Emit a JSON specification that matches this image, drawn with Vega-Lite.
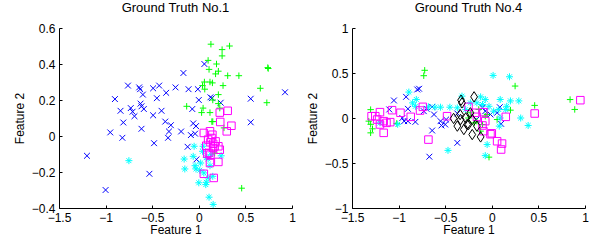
{
  "$schema": "https://vega.github.io/schema/vega-lite/v6.json",
  "autosize": "none",
  "padding": {"left": 59, "top": 28, "right": 538, "bottom": 214},
  "background": "white",
  "bounds": "flush",
  "spacing": 60,
  "datasets": {
    "pts": [
      {"panel":1,"cls":"a","x":-1.2,"y":-0.11},{"panel":1,"cls":"a","x":-1.0,"y":-0.3},{"panel":1,"cls":"a","x":-0.95,"y":0.02},{"panel":1,"cls":"a","x":-0.9,"y":0.205},{"panel":1,"cls":"a","x":-0.84,"y":0.14},{"panel":1,"cls":"a","x":-0.81,"y":0.075},{"panel":1,"cls":"a","x":-0.82,"y":-0.01},{"panel":1,"cls":"a","x":-0.76,"y":0.28},{"panel":1,"cls":"a","x":-0.73,"y":0.155},{"panel":1,"cls":"a","x":-0.71,"y":0.135},{"panel":1,"cls":"a","x":-0.69,"y":0.11},{"panel":1,"cls":"a","x":-0.64,"y":0.27},{"panel":1,"cls":"a","x":-0.63,"y":0.26},{"panel":1,"cls":"a","x":-0.625,"y":0.18},{"panel":1,"cls":"a","x":-0.615,"y":0.165},{"panel":1,"cls":"a","x":-0.6,"y":0.23},{"panel":1,"cls":"a","x":-0.615,"y":0.04},{"panel":1,"cls":"a","x":-0.59,"y":0.15},{"panel":1,"cls":"a","x":-0.53,"y":-0.21},{"panel":1,"cls":"a","x":-0.49,"y":0.265},{"panel":1,"cls":"a","x":-0.49,"y":0.115},{"panel":1,"cls":"a","x":-0.48,"y":-0.04},{"panel":1,"cls":"a","x":-0.45,"y":0.21},{"panel":1,"cls":"a","x":-0.425,"y":0.28},{"panel":1,"cls":"a","x":-0.4,"y":0.14},{"panel":1,"cls":"a","x":-0.35,"y":0.24},{"panel":1,"cls":"a","x":-0.36,"y":0.08},{"panel":1,"cls":"a","x":-0.3,"y":0.06},{"panel":1,"cls":"a","x":-0.32,"y":0.025},{"panel":1,"cls":"a","x":-0.33,"y":-0.01},{"panel":1,"cls":"a","x":-0.25,"y":0.27},{"panel":1,"cls":"a","x":-0.19,"y":0.025},{"panel":1,"cls":"a","x":-0.165,"y":0.35},{"panel":1,"cls":"a","x":-0.12,"y":-0.06},{"panel":1,"cls":"a","x":-0.11,"y":0.26},{"panel":1,"cls":"a","x":-0.07,"y":0.15},{"panel":1,"cls":"a","x":-0.085,"y":0.005},{"panel":1,"cls":"a","x":-0.06,"y":0.07},{"panel":1,"cls":"a","x":-0.03,"y":0.055},{"panel":1,"cls":"a","x":-0.025,"y":-0.13},{"panel":1,"cls":"a","x":-0.01,"y":0.26},{"panel":1,"cls":"a","x":0.0,"y":0.2},{"panel":1,"cls":"a","x":0.06,"y":0.4},{"panel":1,"cls":"a","x":0.125,"y":0.215},{"panel":1,"cls":"a","x":0.14,"y":0.21},{"panel":1,"cls":"a","x":0.235,"y":0.185},{"panel":1,"cls":"a","x":0.557,"y":0.207},{"panel":1,"cls":"a","x":0.557,"y":0.076},{"panel":1,"cls":"a","x":0.925,"y":0.243},{"panel":1,"cls":"a","x":-0.04,"y":0.013},
      {"panel":1,"cls":"b","x":0.13,"y":0.51},{"panel":1,"cls":"b","x":0.33,"y":0.5},{"panel":1,"cls":"b","x":0.25,"y":0.48},{"panel":1,"cls":"b","x":0.25,"y":0.445},{"panel":1,"cls":"b","x":0.1,"y":0.42},{"panel":1,"cls":"b","x":0.19,"y":0.4},{"panel":1,"cls":"b","x":0.11,"y":0.37},{"panel":1,"cls":"b","x":0.21,"y":0.36},{"panel":1,"cls":"b","x":0.18,"y":0.345},{"panel":1,"cls":"b","x":0.31,"y":0.335},{"panel":1,"cls":"b","x":0.43,"y":0.335},{"panel":1,"cls":"b","x":0.74,"y":0.38},{"panel":1,"cls":"b","x":0.745,"y":0.375},{"panel":1,"cls":"b","x":0.66,"y":0.265},{"panel":1,"cls":"b","x":0.73,"y":0.185},{"panel":1,"cls":"b","x":0.06,"y":0.3},{"panel":1,"cls":"b","x":0.12,"y":0.3},{"panel":1,"cls":"b","x":0.146,"y":0.295},{"panel":1,"cls":"b","x":0.26,"y":0.28},{"panel":1,"cls":"b","x":0.04,"y":0.28},{"panel":1,"cls":"b","x":0.21,"y":0.23},{"panel":1,"cls":"b","x":0.15,"y":0.2},{"panel":1,"cls":"b","x":-0.13,"y":0.165},{"panel":1,"cls":"b","x":0.046,"y":0.155},{"panel":1,"cls":"b","x":0.03,"y":0.13},{"panel":1,"cls":"b","x":0.12,"y":0.13},{"panel":1,"cls":"b","x":0.21,"y":0.18},{"panel":1,"cls":"b","x":0.15,"y":0.08},{"panel":1,"cls":"b","x":0.14,"y":0.08},{"panel":1,"cls":"b","x":0.27,"y":0.045},{"panel":1,"cls":"b","x":0.225,"y":0.155},{"panel":1,"cls":"b","x":0.17,"y":-0.095},{"panel":1,"cls":"b","x":0.46,"y":-0.29},{"panel":1,"cls":"b","x":0.064,"y":0.26},
      {"panel":1,"cls":"c","x":-0.75,"y":-0.137},{"panel":1,"cls":"c","x":-0.157,"y":-0.128},{"panel":1,"cls":"c","x":-0.15,"y":-0.183},{"panel":1,"cls":"c","x":-0.05,"y":-0.057},{"panel":1,"cls":"c","x":-0.06,"y":-0.113},{"panel":1,"cls":"c","x":-0.04,"y":-0.165},{"panel":1,"cls":"c","x":-0.03,"y":-0.183},{"panel":1,"cls":"c","x":0.01,"y":-0.19},{"panel":1,"cls":"c","x":0.0,"y":-0.26},{"panel":1,"cls":"c","x":0.08,"y":-0.257},{"panel":1,"cls":"c","x":0.075,"y":-0.27},{"panel":1,"cls":"c","x":0.1,"y":-0.233},{"panel":1,"cls":"c","x":0.12,"y":-0.165},{"panel":1,"cls":"c","x":0.1,"y":-0.128},{"panel":1,"cls":"c","x":0.13,"y":-0.104},{"panel":1,"cls":"c","x":0.15,"y":-0.224},{"panel":1,"cls":"c","x":0.11,"y":-0.34},{"panel":1,"cls":"c","x":0.154,"y":-0.38},{"panel":1,"cls":"c","x":0.24,"y":-0.11},{"panel":1,"cls":"c","x":0.08,"y":-0.12},{"panel":1,"cls":"c","x":0.046,"y":-0.057},{"panel":1,"cls":"c","x":0.054,"y":-0.205},{"panel":1,"cls":"c","x":0.04,"y":-0.085},{"panel":1,"cls":"c","x":0.02,"y":-0.15},
      {"panel":1,"cls":"d","x":0.31,"y":0.14},{"panel":1,"cls":"d","x":0.225,"y":0.13},{"panel":1,"cls":"d","x":0.23,"y":0.078},{"panel":1,"cls":"d","x":0.35,"y":0.057},{"panel":1,"cls":"d","x":0.3,"y":0.026},{"panel":1,"cls":"d","x":0.054,"y":0.017},{"panel":1,"cls":"d","x":0.12,"y":0.026},{"panel":1,"cls":"d","x":0.146,"y":0.007},{"panel":1,"cls":"d","x":0.1,"y":-0.02},{"panel":1,"cls":"d","x":0.125,"y":-0.035},{"panel":1,"cls":"d","x":0.154,"y":-0.043},{"panel":1,"cls":"d","x":0.18,"y":-0.03},{"panel":1,"cls":"d","x":0.21,"y":-0.057},{"panel":1,"cls":"d","x":0.225,"y":-0.076},{"panel":1,"cls":"d","x":0.154,"y":-0.067},{"panel":1,"cls":"d","x":0.11,"y":-0.094},{"panel":1,"cls":"d","x":0.125,"y":-0.104},{"panel":1,"cls":"d","x":0.09,"y":-0.098},{"panel":1,"cls":"d","x":0.12,"y":-0.15},{"panel":1,"cls":"d","x":0.21,"y":-0.144},{"panel":1,"cls":"d","x":0.054,"y":-0.21},{"panel":1,"cls":"d","x":0.16,"y":-0.233},{"panel":1,"cls":"d","x":0.17,"y":-0.057},{"panel":1,"cls":"d","x":0.08,"y":-0.054},{"panel":1,"cls":"d","x":0.136,"y":-0.011},
      {"panel":2,"cls":"a","x":-1.05,"y":0.195},{"panel":2,"cls":"a","x":-1.1,"y":0.095},{"panel":2,"cls":"a","x":-0.92,"y":0.235},{"panel":2,"cls":"a","x":-0.9,"y":0.102},{"panel":2,"cls":"a","x":-0.96,"y":0.0},{"panel":2,"cls":"a","x":-0.94,"y":-0.035},{"panel":2,"cls":"a","x":-0.9,"y":-0.035},{"panel":2,"cls":"a","x":-0.82,"y":-0.043},{"panel":2,"cls":"a","x":-0.8,"y":0.317},{"panel":2,"cls":"a","x":-0.78,"y":0.325},{"panel":2,"cls":"a","x":-0.73,"y":0.076},{"panel":2,"cls":"a","x":-0.7,"y":0.102},{"panel":2,"cls":"a","x":-0.64,"y":0.124},{"panel":2,"cls":"a","x":-0.62,"y":0.039},{"panel":2,"cls":"a","x":-0.64,"y":-0.139},{"panel":2,"cls":"a","x":-0.67,"y":-0.43},{"panel":2,"cls":"a","x":-0.55,"y":-0.035},{"panel":2,"cls":"a","x":-0.54,"y":-0.083},{"panel":2,"cls":"a","x":-0.5,"y":-0.072},{"panel":2,"cls":"a","x":-0.49,"y":-0.017},{"panel":2,"cls":"a","x":-0.37,"y":-0.276},{"panel":2,"cls":"a","x":-0.37,"y":0.05},{"panel":2,"cls":"a","x":-0.1,"y":0.113},{"panel":2,"cls":"a","x":-0.014,"y":0.039},{"panel":2,"cls":"a","x":0.057,"y":0.058},{"panel":2,"cls":"a","x":0.086,"y":0.12},{"panel":2,"cls":"a","x":0.1,"y":-0.065},{"panel":2,"cls":"a","x":-0.07,"y":0.076},{"panel":2,"cls":"a","x":-0.165,"y":-0.017},
      {"panel":2,"cls":"b","x":-1.3,"y":0.093},{"panel":2,"cls":"b","x":-1.32,"y":-0.035},{"panel":2,"cls":"b","x":-1.3,"y":-0.07},{"panel":2,"cls":"b","x":-1.3,"y":-0.165},{"panel":2,"cls":"b","x":-1.28,"y":-0.12},{"panel":2,"cls":"b","x":-1.02,"y":-0.06},{"panel":2,"cls":"b","x":-0.72,"y":0.53},{"panel":2,"cls":"b","x":-0.73,"y":0.47},{"panel":2,"cls":"b","x":0.25,"y":0.355},{"panel":2,"cls":"b","x":0.46,"y":0.14},{"panel":2,"cls":"b","x":0.84,"y":0.205},{"panel":2,"cls":"b","x":0.89,"y":0.095},{"panel":2,"cls":"b","x":-0.03,"y":-0.435},{"panel":2,"cls":"b","x":0.2,"y":0.087},{"panel":2,"cls":"b","x":-0.23,"y":0.058},{"panel":2,"cls":"b","x":-0.16,"y":-0.035},{"panel":2,"cls":"b","x":-0.1,"y":-0.072},{"panel":2,"cls":"b","x":-0.07,"y":0.02},{"panel":2,"cls":"b","x":-0.19,"y":-0.054},{"panel":2,"cls":"b","x":-0.12,"y":-0.146},{"panel":2,"cls":"b","x":-0.25,"y":0.0},{"panel":2,"cls":"b","x":0.057,"y":-0.017},{"panel":2,"cls":"b","x":-0.05,"y":0.039},{"panel":2,"cls":"b","x":-0.14,"y":0.095},
      {"panel":2,"cls":"c","x":0.014,"y":0.473},{"panel":2,"cls":"c","x":0.19,"y":0.458},{"panel":2,"cls":"c","x":0.09,"y":0.206},{"panel":2,"cls":"c","x":-0.89,"y":0.288},{"panel":2,"cls":"c","x":-0.81,"y":0.206},{"panel":2,"cls":"c","x":-0.82,"y":0.13},{"panel":2,"cls":"c","x":-1.01,"y":-0.07},{"panel":2,"cls":"c","x":-0.61,"y":0.12},{"panel":2,"cls":"c","x":-0.55,"y":0.12},{"panel":2,"cls":"c","x":-0.45,"y":0.12},{"panel":2,"cls":"c","x":-0.47,"y":-0.36},{"panel":2,"cls":"c","x":-0.32,"y":0.243},{"panel":2,"cls":"c","x":-0.12,"y":0.235},{"panel":2,"cls":"c","x":-0.07,"y":0.206},{"panel":2,"cls":"c","x":0.2,"y":0.19},{"panel":2,"cls":"c","x":0.29,"y":0.19},{"panel":2,"cls":"c","x":0.31,"y":0.0},{"panel":2,"cls":"c","x":0.39,"y":-0.083},{"panel":2,"cls":"c","x":-0.05,"y":-0.295},{"panel":2,"cls":"c","x":-0.07,"y":-0.418},{"panel":2,"cls":"c","x":-0.23,"y":0.168},{"panel":2,"cls":"c","x":-0.28,"y":0.094},{"panel":2,"cls":"c","x":-0.37,"y":0.113},{"panel":2,"cls":"c","x":0.075,"y":0.094},{"panel":2,"cls":"c","x":0.02,"y":0.076},{"panel":2,"cls":"c","x":0.09,"y":0.0},{"panel":2,"cls":"c","x":0.08,"y":-0.09},{"panel":2,"cls":"c","x":-0.1,"y":0.15},{"panel":2,"cls":"c","x":-0.03,"y":0.13},{"panel":2,"cls":"c","x":0.15,"y":0.094},{"panel":2,"cls":"c","x":0.16,"y":0.13},{"panel":2,"cls":"c","x":-0.16,"y":0.168},{"panel":2,"cls":"c","x":-1.2,"y":-0.054},{"panel":2,"cls":"c","x":-0.68,"y":0.124},{"panel":2,"cls":"c","x":-0.85,"y":0.168},
      {"panel":2,"cls":"d","x":-1.29,"y":0.02},{"panel":2,"cls":"d","x":-1.25,"y":0.02},{"panel":2,"cls":"d","x":-1.2,"y":0.065},{"panel":2,"cls":"d","x":-1.23,"y":-0.017},{"panel":2,"cls":"d","x":-1.2,"y":-0.072},{"panel":2,"cls":"d","x":-1.16,"y":-0.035},{"panel":2,"cls":"d","x":-1.13,"y":-0.054},{"panel":2,"cls":"d","x":-1.16,"y":-0.165},{"panel":2,"cls":"d","x":-1.09,"y":-0.046},{"panel":2,"cls":"d","x":-1.07,"y":0.087},{"panel":2,"cls":"d","x":-0.98,"y":0.058},{"panel":2,"cls":"d","x":-0.87,"y":0.013},{"panel":2,"cls":"d","x":-0.74,"y":0.124},{"panel":2,"cls":"d","x":-0.77,"y":0.083},{"panel":2,"cls":"d","x":-0.68,"y":-0.24},{"panel":2,"cls":"d","x":-0.48,"y":0.02},{"panel":2,"cls":"d","x":-0.25,"y":0.124},{"panel":2,"cls":"d","x":-0.18,"y":0.058},{"panel":2,"cls":"d","x":-0.16,"y":0.013},{"panel":2,"cls":"d","x":-0.09,"y":0.065},{"panel":2,"cls":"d","x":-0.07,"y":-0.035},{"panel":2,"cls":"d","x":-0.014,"y":-0.18},{"panel":2,"cls":"d","x":0.0,"y":-0.17},{"panel":2,"cls":"d","x":0.057,"y":-0.258},{"panel":2,"cls":"d","x":0.11,"y":-0.284},{"panel":2,"cls":"d","x":0.1,"y":-0.35},{"panel":2,"cls":"d","x":0.15,"y":0.013},{"panel":2,"cls":"d","x":0.46,"y":0.05},{"panel":2,"cls":"d","x":0.95,"y":0.198},{"panel":2,"cls":"d","x":-0.09,"y":-0.146},{"panel":2,"cls":"d","x":-0.1,"y":-0.083},
      {"panel":2,"cls":"e","x":-0.41,"y":-0.005},{"panel":2,"cls":"e","x":-0.34,"y":0.039},{"panel":2,"cls":"e","x":-0.33,"y":0.198},{"panel":2,"cls":"e","x":-0.32,"y":0.168},{"panel":2,"cls":"e","x":-0.19,"y":0.235},{"panel":2,"cls":"e","x":-0.37,"y":-0.09},{"panel":2,"cls":"e","x":-0.3,"y":-0.128},{"panel":2,"cls":"e","x":-0.265,"y":-0.072},{"panel":2,"cls":"e","x":-0.21,"y":-0.017},{"panel":2,"cls":"e","x":-0.21,"y":-0.184},{"panel":2,"cls":"e","x":-0.12,"y":-0.21},{"panel":2,"cls":"e","x":-0.23,"y":0.058},{"panel":2,"cls":"e","x":-0.16,"y":-0.09},{"panel":2,"cls":"e","x":-0.28,"y":0.0},{"panel":2,"cls":"e","x":-0.335,"y":-0.017},{"panel":2,"cls":"e","x":-0.25,"y":-0.072}
    ]
  },
  "data": {"name": "pts"},
  "hconcat": [
    {
      "title": {"text": "Ground Truth No.1"},
      "width": 233,
      "height": 180,
      "transform": [{"filter": "datum.panel == 1"}],
      "mark": {"type": "point", "filled": false, "strokeWidth": 1, "opacity": 1},
      "encoding": {
        "x": {"field": "x", "type": "quantitative", "scale": {"domain": [-1.5, 1], "nice": false, "zero": false}, "axis": {"values": [-1.5, -1, -0.5, 0, 0.5, 1], "title": "Feature 1"}},
        "y": {"field": "y", "type": "quantitative", "scale": {"domain": [-0.4, 0.6], "nice": false, "zero": false}, "axis": {"values": [-0.4, -0.2, 0, 0.2, 0.4, 0.6], "title": "Feature 2"}},
        "shape": {"field": "cls", "type": "nominal", "scale": {"domain": ["a", "b", "c", "d", "e"], "range": ["M-1,-1L1,1M-1,1L1,-1", "M-1,0L1,0M0,-1L0,1", "M-1,0L1,0M0,-1L0,1M-0.7,-0.7L0.7,0.7M-0.7,0.7L0.7,-0.7", "square", "M0,-1.3L0.85,0L0,1.3L-0.85,0Z"]}, "legend": null},
        "color": {"field": "cls", "type": "nominal", "scale": {"domain": ["a", "b", "c", "d", "e"], "range": ["#0000ff", "#00ff00", "#00ffff", "#ff00ff", "#000000"]}, "legend": null},
        "size": {"field": "cls", "type": "nominal", "scale": {"domain": ["a", "b", "c", "d", "e"], "range": [34, 64, 49, 42, 56]}, "legend": null}
      }
    },
    {
      "title": {"text": "Ground Truth No.4"},
      "width": 233,
      "height": 180,
      "transform": [{"filter": "datum.panel == 2"}],
      "mark": {"type": "point", "filled": false, "strokeWidth": 1, "opacity": 1},
      "encoding": {
        "x": {"field": "x", "type": "quantitative", "scale": {"domain": [-1.5, 1], "nice": false, "zero": false}, "axis": {"values": [-1.5, -1, -0.5, 0, 0.5, 1], "title": "Feature 1"}},
        "y": {"field": "y", "type": "quantitative", "scale": {"domain": [-1, 1], "nice": false, "zero": false}, "axis": {"values": [-1, -0.5, 0, 0.5, 1], "title": "Feature 2"}},
        "shape": {"field": "cls", "type": "nominal", "scale": {"domain": ["a", "b", "c", "d", "e"], "range": ["M-1,-1L1,1M-1,1L1,-1", "M-1,0L1,0M0,-1L0,1", "M-1,0L1,0M0,-1L0,1M-0.7,-0.7L0.7,0.7M-0.7,0.7L0.7,-0.7", "square", "M0,-1.3L0.85,0L0,1.3L-0.85,0Z"]}, "legend": null},
        "color": {"field": "cls", "type": "nominal", "scale": {"domain": ["a", "b", "c", "d", "e"], "range": ["#0000ff", "#00ff00", "#00ffff", "#ff00ff", "#000000"]}, "legend": null},
        "size": {"field": "cls", "type": "nominal", "scale": {"domain": ["a", "b", "c", "d", "e"], "range": [34, 64, 49, 42, 56]}, "legend": null}
      }
    }
  ],
  "config": {
    "view": {"stroke": null},
    "font": "Liberation Sans",
    "title": {"font": "Liberation Sans", "fontSize": 13, "fontWeight": "normal", "color": "black", "offset": 7, "anchor": "middle"},
    "axis": {
      "grid": false,
      "format": "~g",
      "domainColor": "black",
      "tickColor": "black",
      "tickSize": -3,
      "labelFont": "Liberation Sans",
      "labelFontSize": 12,
      "labelColor": "black",
      "labelPadding": 7,
      "titleFont": "Liberation Sans",
      "titleFontSize": 12,
      "titleFontWeight": "normal",
      "titleColor": "black",
      "labelFlush": false,
      "labelOverlap": false
    },
    "axisX": {"titlePadding": 1},
    "axisY": {"titlePadding": 5}
  }
}
